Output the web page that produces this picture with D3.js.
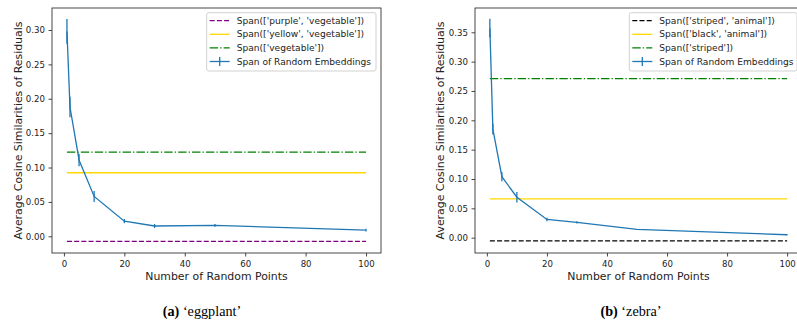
<!DOCTYPE html>
<html><head><meta charset="utf-8">
<script src="https://cdn.jsdelivr.net/npm/d3@7"></script>
<style>body{margin:0;background:#fff}</style>
</head><body>
<svg id="c" width="797" height="322" xmlns="http://www.w3.org/2000/svg"></svg>
<script>
// ---- data ----
const xPoints = [1, 2, 5, 10, 20, 30, 50, 100];
const eggMeans = [0.298, 0.188, 0.111, 0.058, 0.022, 0.015, 0.016, 0.009];
const eggErrs  = [0.018, 0.015, 0.009, 0.008, 0.003, 0.003, 0.002, 0.002];
const eggRefLabels = ["Span(['purple', 'vegetable'])", "Span(['yellow', 'vegetable'])", "Span(['vegetable'])"];
const eggRefValues = [-0.0073, 0.0924, 0.1225];
const zebraMeans = [0.357, 0.185, 0.104, 0.069, 0.031, 0.026, 0.014, 0.005];
const zebraErrs  = [0.016, 0.009, 0.008, 0.009, 0.003, 0.002, 0.001, 0.001];
const zebraRefLabels = ["Span(['striped', 'animal'])", "Span(['black', 'animal'])", "Span(['striped'])"];
const zebraRefValues = [-0.0056, 0.066, 0.271];
const randomLabel = "Span of Random Embeddings";
const xTicks = [0, 20, 40, 60, 80, 100];
const eggYTicks = [0, 0.05, 0.10, 0.15, 0.20, 0.25, 0.30];
const zebraYTicks = [0, 0.05, 0.10, 0.15, 0.20, 0.25, 0.30, 0.35];
const xLabel = "Number of Random Points";
const yLabel = "Average Cosine Similarities of Residuals";
const captionTags = ["(a)", "(b)"];
const captionWords = ["‘eggplant’", "‘zebra’"];

// ---- styles ----
const refColorsEgg = ["#800080", "#ffd700", "#008000"];
const refColorsZebra = ["#000000", "#ffd700", "#008000"];
const refDashes = ["5,2.2", null, "8.4,2.1,1.3,2.1"];
const blue = "#1f77b4";

const svg = d3.select("#c");

function panel(o) {
  const g = svg.append("g");
  const x = d3.scaleLinear().domain([-3.95, 104.95]).range([o.left, o.right]);
  const y = d3.scaleLinear().domain(o.yDomain).range([o.bottom, o.top]);

  const cid = "clip" + o.id;
  g.append("clipPath").attr("id", cid).append("rect")
    .attr("x", o.left).attr("y", o.top).attr("width", o.right - o.left).attr("height", o.bottom - o.top);
  const plot = g.append("g").attr("clip-path", `url(#${cid})`);

  // reference lines
  o.refValues.forEach((v, i) => {
    plot.append("line")
      .attr("x1", x(xPoints[0])).attr("x2", x(xPoints[xPoints.length - 1]))
      .attr("y1", y(v)).attr("y2", y(v))
      .attr("stroke", o.refColors[i]).attr("stroke-width", 1.3)
      .attr("stroke-dasharray", refDashes[i]);
  });

  // random embeddings line with error bars
  const pts = xPoints.map((xv, i) => [xv, o.means[i], o.errs[i]]);
  plot.append("path").datum(pts)
    .attr("fill", "none").attr("stroke", blue).attr("stroke-width", 1.3)
    .attr("d", d3.line().x(d => x(d[0])).y(d => y(d[1])));
  plot.selectAll(".err").data(pts).join("line")
    .attr("x1", d => x(d[0])).attr("x2", d => x(d[0]))
    .attr("y1", d => y(d[1] - d[2])).attr("y2", d => y(d[1] + d[2]))
    .attr("stroke", blue).attr("stroke-width", 1.3);

  // axes
  const ax = g.append("g").attr("transform", `translate(0,${o.bottom})`)
    .call(d3.axisBottom(x).tickValues(xTicks).tickFormat(d3.format("d")).tickSize(3.5).tickPadding(4));
  const ay = g.append("g").attr("transform", `translate(${o.left},0)`)
    .call(d3.axisLeft(y).tickValues(o.yTicks).tickFormat(d3.format(".2f")).tickSize(3.5).tickPadding(3.5));
  [ax, ay].forEach(a => {
    a.select(".domain").remove();
    a.selectAll(".tick line").attr("stroke", "#333").attr("stroke-width", 0.9);
    a.selectAll(".tick text").attr("fill", "#222")
      .style("font-family", "DejaVu Sans").style("font-size", "8.6px");
  });

  // frame
  g.append("rect").attr("x", o.left).attr("y", o.top)
    .attr("width", o.right - o.left).attr("height", o.bottom - o.top)
    .attr("fill", "none").attr("stroke", "#333").attr("stroke-width", 0.9);

  // axis labels
  g.append("text").attr("x", (o.left + o.right) / 2).attr("y", 279.5)
    .attr("text-anchor", "middle").attr("fill", "#222")
    .style("font-family", "DejaVu Sans").style("font-size", "10.9px").text(xLabel);
  g.append("text").attr("transform", `translate(${o.yLabelX},${(o.top + o.bottom) / 2}) rotate(-90)`)
    .attr("text-anchor", "middle").attr("fill", "#222")
    .style("font-family", "DejaVu Sans").style("font-size", "10.9px").text(yLabel);

  // legend
  const lg = g.append("g");
  lg.append("rect").attr("x", o.legX).attr("y", 12.7)
    .attr("width", o.right - 5 - o.legX).attr("height", 58.3)
    .attr("rx", 2).attr("fill", "#fff").attr("fill-opacity", 0.8)
    .attr("stroke", "#ccc").attr("stroke-width", 0.9);
  const rowsY = [20.7, 34.3, 47.9, 61.5];
  const hx0 = o.legX + 3, hx1 = o.legX + 23, tx = o.legX + 30;
  o.refLabels.forEach((lab, i) => {
    lg.append("line").attr("x1", hx0).attr("x2", hx1).attr("y1", rowsY[i]).attr("y2", rowsY[i])
      .attr("stroke", o.refColors[i]).attr("stroke-width", 1.3).attr("stroke-dasharray", refDashes[i]);
    lg.append("text").attr("x", tx).attr("y", rowsY[i]).attr("dy", "0.35em").attr("fill", "#222")
      .style("font-family", "DejaVu Sans").style("font-size", "9.1px").text(lab);
  });
  lg.append("line").attr("x1", hx0).attr("x2", hx1).attr("y1", rowsY[3]).attr("y2", rowsY[3])
    .attr("stroke", blue).attr("stroke-width", 1.3);
  lg.append("line").attr("x1", (hx0 + hx1) / 2).attr("x2", (hx0 + hx1) / 2)
    .attr("y1", rowsY[3] - 4.5).attr("y2", rowsY[3] + 4.5).attr("stroke", blue).attr("stroke-width", 1.3);
  lg.append("text").attr("x", tx).attr("y", rowsY[3]).attr("dy", "0.35em").attr("fill", "#222")
    .style("font-family", "DejaVu Sans").style("font-size", "9.1px").text(randomLabel);

  // caption
  const cap = g.append("text").attr("x", o.capX).attr("y", 316).attr("text-anchor", "middle")
    .attr("fill", "#000").style("font-family", "Liberation Serif").style("font-size", "14.2px");
  cap.append("tspan").style("font-weight", "bold").text(o.tag);
  cap.append("tspan").text(" " + o.word);
}

panel({
  id: "a", left: 52, right: 381, top: 8, bottom: 253,
  yDomain: [-0.0243, 0.3320], yTicks: eggYTicks,
  means: eggMeans, errs: eggErrs,
  refValues: eggRefValues, refColors: refColorsEgg, refLabels: eggRefLabels,
  legX: 206.7, yLabelX: 22, capX: 202, tag: captionTags[0], word: captionWords[0]
});
panel({
  id: "b", left: 475, right: 802, top: 8, bottom: 253,
  yDomain: [-0.0261, 0.3914], yTicks: zebraYTicks,
  means: zebraMeans, errs: zebraErrs,
  refValues: zebraRefValues, refColors: refColorsZebra, refLabels: zebraRefLabels,
  legX: 629.3, yLabelX: 443.5, capX: 631, tag: captionTags[1], word: captionWords[1]
});
</script>
</body></html>
